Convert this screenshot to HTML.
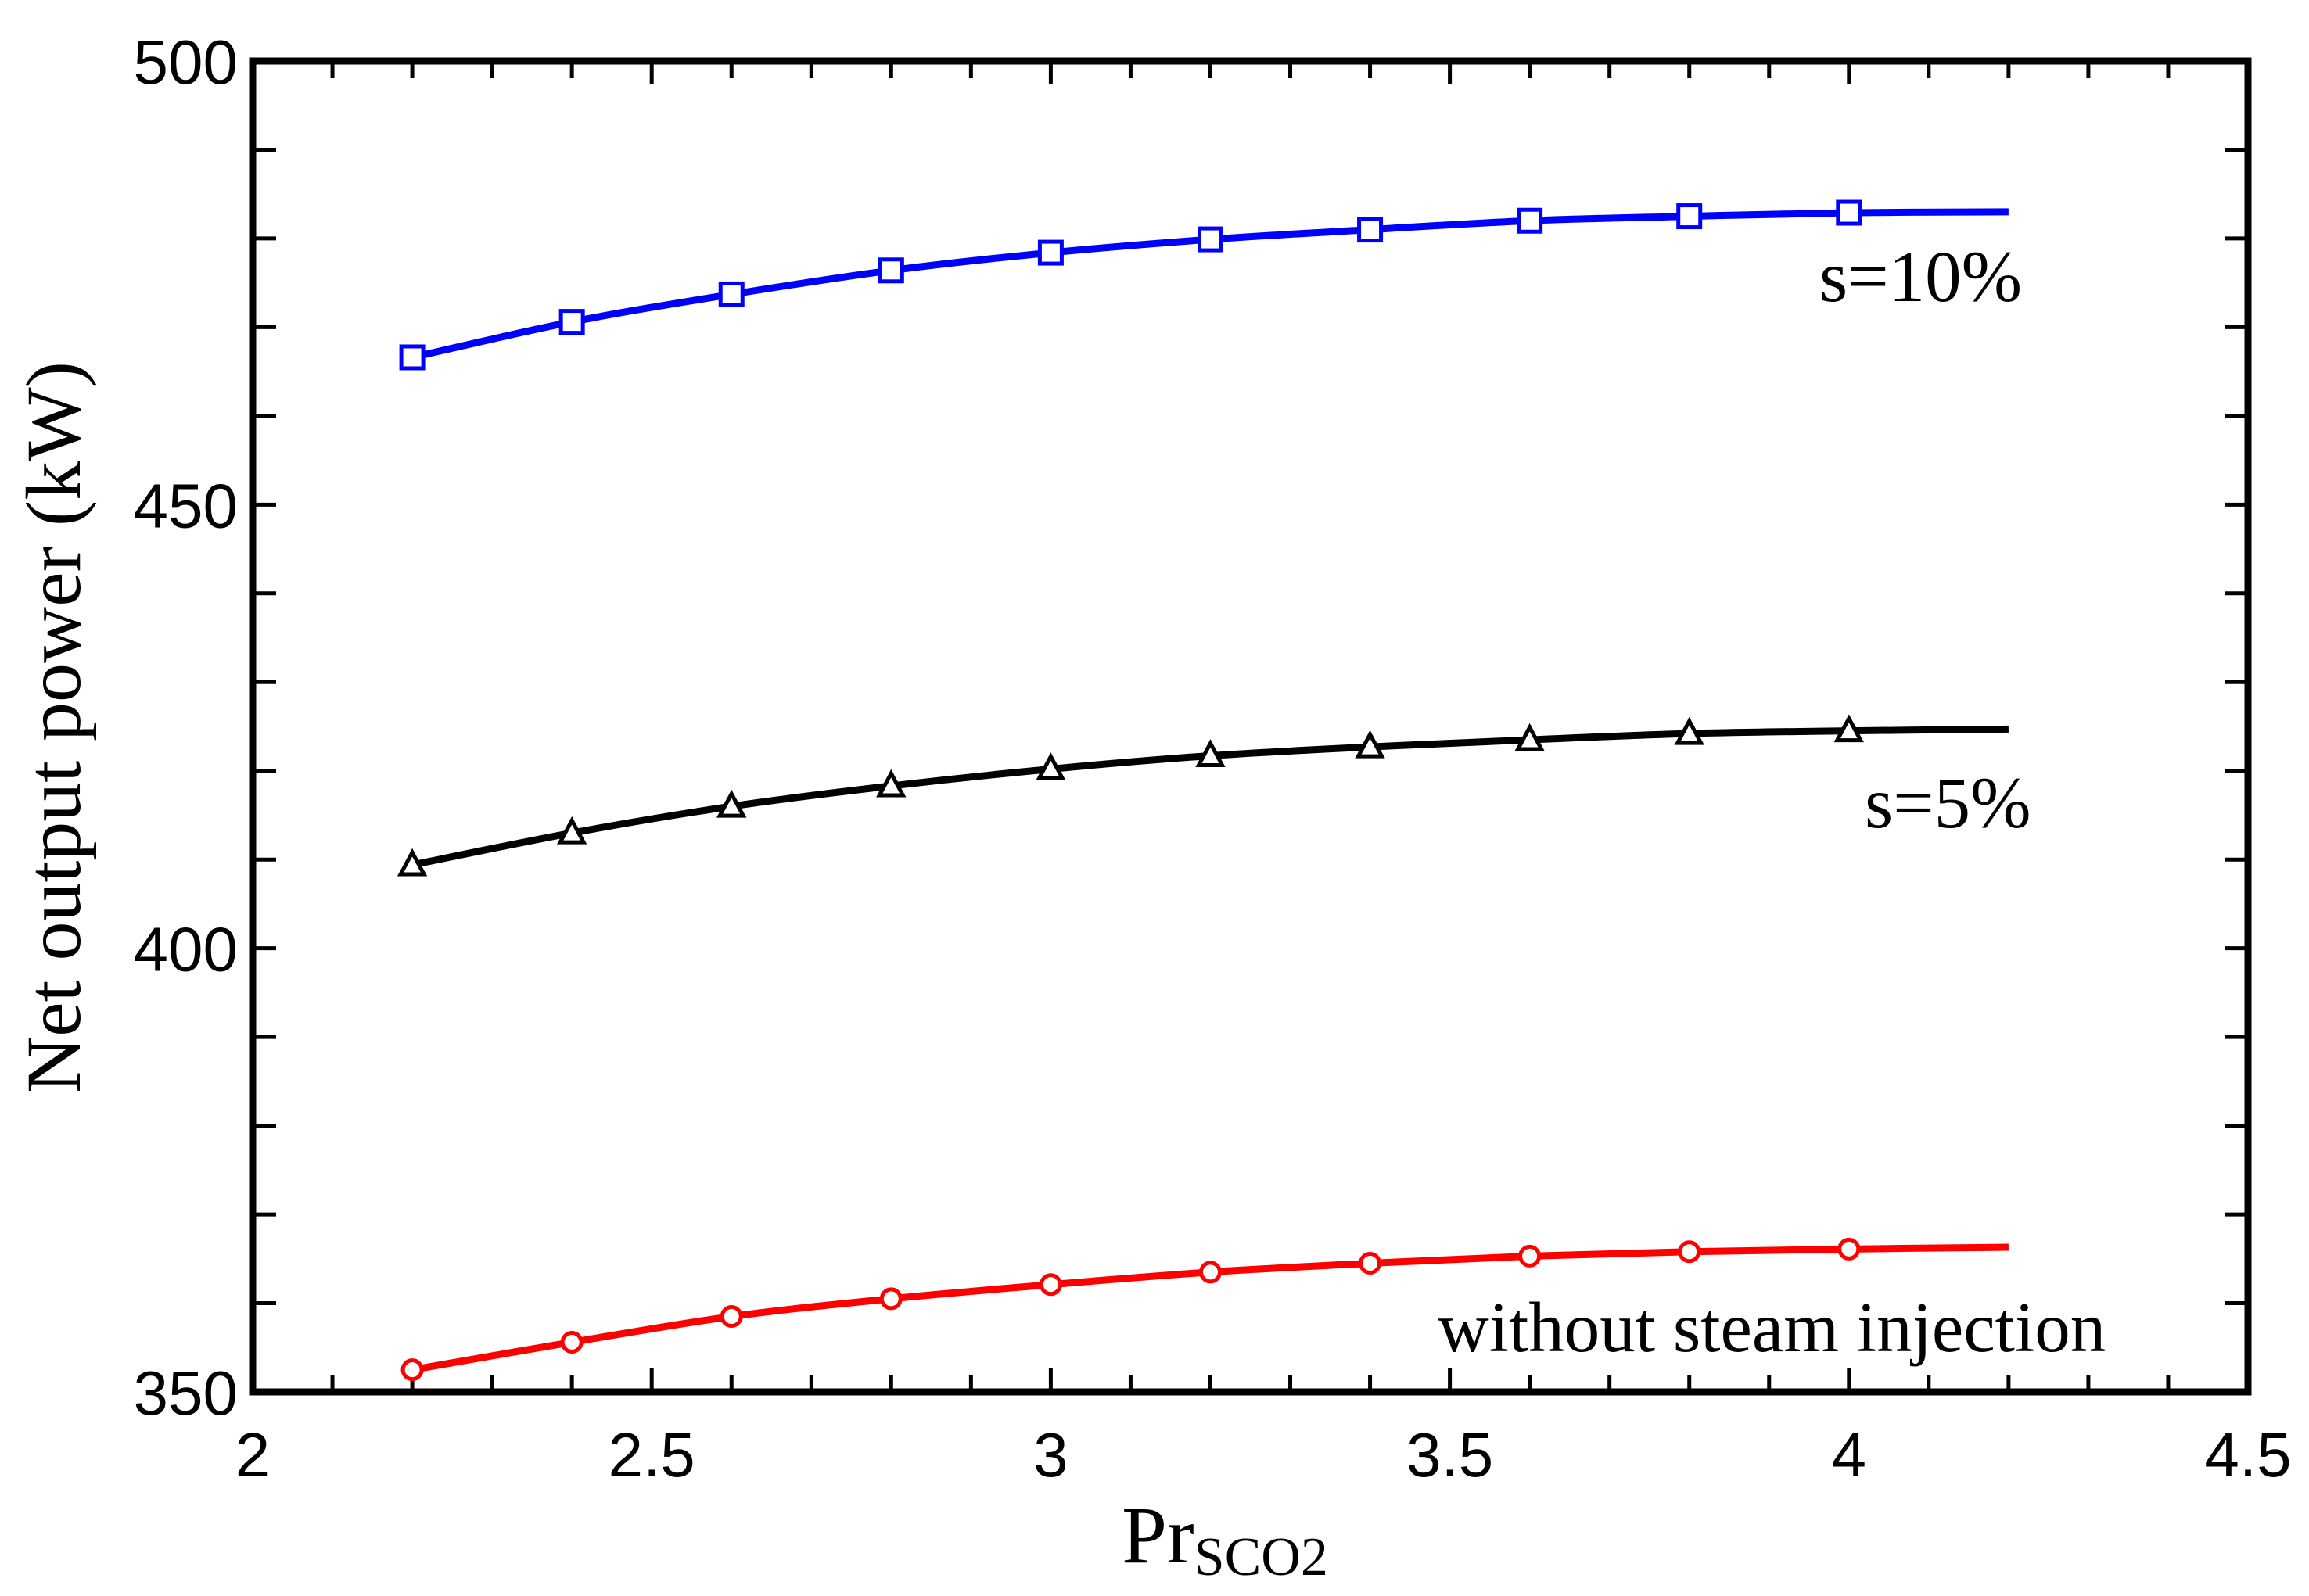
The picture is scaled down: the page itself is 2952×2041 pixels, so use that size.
<!DOCTYPE html>
<html><head><meta charset="utf-8"><style>
html,body{margin:0;padding:0;background:#fff;}
svg{display:block;}
</style></head><body>
<svg id="chart" width="2952" height="2041" viewBox="0 0 2952 2041" xmlns="http://www.w3.org/2000/svg">
<rect width="2952" height="2041" fill="#fff"/>
<g id="plot"></g>
</svg>
<script>
const xValues = [2.2, 2.4, 2.6, 2.8, 3.0, 3.2, 3.4, 3.6, 3.8, 4.0, 4.2];
const s10Values = [466.6, 470.6, 473.7, 476.4, 478.4, 479.9, 481.0, 482.0, 482.5, 482.9, 483.0];
const s5Values = [409.4, 413.0, 416.0, 418.3, 420.2, 421.7, 422.7, 423.5, 424.2, 424.5, 424.7];
const noSteamValues = [352.5, 355.6, 358.5, 360.5, 362.1, 363.5, 364.5, 365.3, 365.8, 366.1, 366.3];
const xTickLabels = ["2", "2.5", "3", "3.5", "4", "4.5"];
const yTickLabels = ["350", "400", "450", "500"];

const L = 323, R = 2874, T = 78, B = 1780;
const X0 = 2, X1 = 4.5, Y0 = 350, Y1 = 500;
const sx = v => L + (v - X0) / (X1 - X0) * (R - L);
const sy = v => B - (v - Y0) / (Y1 - Y0) * (B - T);
const NS = "http://www.w3.org/2000/svg";
const g = document.getElementById('plot');
function mk(tag, attrs, parent) {
  const e = document.createElementNS(NS, tag);
  for (const k in attrs) e.setAttribute(k, attrs[k]);
  (parent || g).appendChild(e);
  return e;
}
function smoothPath(xs, ys) {
  const p = xs.map((x, i) => [sx(x), sy(ys[i])]);
  let d = `M${p[0][0]},${p[0][1]}`;
  for (let i = 0; i < p.length - 1; i++) {
    const p0 = p[Math.max(0, i - 1)], p1 = p[i], p2 = p[i + 1], p3 = p[Math.min(p.length - 1, i + 2)];
    const c1 = [p1[0] + (p2[0] - p0[0]) / 6, p1[1] + (p2[1] - p0[1]) / 6];
    const c2 = [p2[0] - (p3[0] - p1[0]) / 6, p2[1] - (p3[1] - p1[1]) / 6];
    d += ` C${c1[0]},${c1[1]} ${c2[0]},${c2[1]} ${p2[0]},${p2[1]}`;
  }
  return d;
}

for (let i = 0; i <= 25; i++) {
  const v = X0 + i * 0.1;
  const x = sx(v);
  const len = (i % 5 === 0) ? 30 : 22;
  let t = mk('line', {x1: x, y1: B, x2: x, y2: B - len, stroke: '#000', 'stroke-width': 5});
  
  
  t = mk('line', {x1: x, y1: T, x2: x, y2: T + len, stroke: '#000', 'stroke-width': 5});
  
  
}
for (let i = 0; i <= 15; i++) {
  const v = Y0 + i * 10;
  const y = sy(v);
  const len = 30;
  let t = mk('line', {x1: L, y1: y, x2: L + len, y2: y, stroke: '#000', 'stroke-width': 5});
  
  
  t = mk('line', {x1: R, y1: y, x2: R - len, y2: y, stroke: '#000', 'stroke-width': 5});
  
  
}
const frame = mk('rect', {x: L, y: T, width: R - L, height: B - T, fill: 'none', stroke: '#000', 'stroke-width': 9});



xTickLabels.forEach(s => {
  const t = mk('text', {x: sx(parseFloat(s)), y: 1888, 'text-anchor': 'middle', 'font-family': 'Liberation Sans, sans-serif', 'font-size': 80});
  t.textContent = s;
  
  
});
yTickLabels.forEach(s => {
  const t = mk('text', {x: 304, y: sy(parseFloat(s)) + 29, 'text-anchor': 'end', 'font-family': 'Liberation Sans, sans-serif', 'font-size': 80});
  t.textContent = s;
  
  
});

function series(vals, color, marker, name) {
  const path = mk('path', {d: smoothPath(xValues, vals), fill: 'none', stroke: color, 'stroke-width': 9});
  
  
  for (let i = 0; i < xValues.length - 1; i++) {
    const x = sx(xValues[i]), y = sy(vals[i]);
    let m;
    if (marker === 'square') m = mk('rect', {x: x - 14, y: y - 14, width: 28, height: 28, fill: '#fff', stroke: color, 'stroke-width': 5});
    else if (marker === 'circle') m = mk('circle', {cx: x, cy: y, r: 12, fill: '#fff', stroke: color, 'stroke-width': 5});
    else m = mk('polygon', {points: `${x},${y - 16} ${x - 15},${y + 12} ${x + 15},${y + 12}`, fill: '#fff', stroke: color, 'stroke-width': 5});
    
    
  }
}
series(s10Values, '#0000ff', 'square', 's10');
series(s5Values, '#000000', 'triangle', 's5');
series(noSteamValues, '#ff0000', 'circle', 'no-steam');

function label(txt, x, y, size, name) {
  const t = mk('text', {x: x, y: y, 'font-family': 'Liberation Serif, serif', 'font-size': size});
  t.textContent = txt;
  
  
}
label('s=10%', 2326, 385, 93, 's10-label');
label('s=5%', 2384, 1058, 93, 's5-label');
label('without steam injection', 1838, 1728, 91, 'no-steam-label');

const yt = mk('text', {x: 0, y: 0, transform: 'translate(102,930) rotate(-90)', 'text-anchor': 'middle', 'font-family': 'Liberation Serif, serif', 'font-size': 100});
yt.textContent = 'Net output power (kW)';


const xt = mk('text', {x: 1566, y: 1998, 'text-anchor': 'middle', 'font-family': 'Liberation Serif, serif', 'font-size': 104});


const ts1 = mk('tspan', {}, xt); ts1.textContent = 'Pr';
const ts2 = mk('tspan', {'font-size': 70, dy: 16}, xt); ts2.textContent = 'SCO2';
</script>
</body></html>
